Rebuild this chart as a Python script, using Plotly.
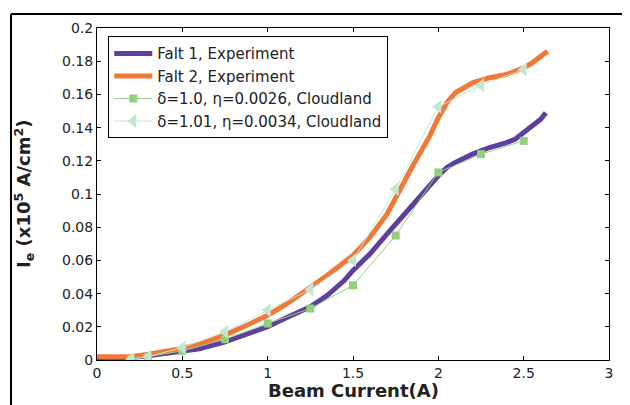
import plotly.graph_objects as go

PURPLE = "#5E3F9E"
ORANGE = "#F07838"
SQ_GREEN = "#93CF7E"
TRI_GREEN = "#C2E6D0"
FONT = "DejaVu Sans, Liberation Sans, sans-serif"

# Falt 1, Experiment
falt1_x = [0, 0.1, 0.2, 0.3, 0.4, 0.5, 0.6, 0.75, 0.9, 1.0, 1.1, 1.25, 1.35, 1.45, 1.5,
           1.6, 1.7, 1.75, 1.85, 1.95, 2.0, 2.05, 2.1, 2.2, 2.3, 2.4, 2.45, 2.5, 2.55, 2.6, 2.63]
falt1_y = [0.0015, 0.0015, 0.0015, 0.0025, 0.0037, 0.005, 0.0068, 0.011, 0.016, 0.020, 0.025,
           0.032, 0.039, 0.048, 0.054, 0.064, 0.076, 0.082, 0.094, 0.106, 0.111, 0.116, 0.119,
           0.124, 0.128, 0.131, 0.133, 0.137, 0.141, 0.145, 0.149]

# Falt 2, Experiment
falt2_x = [0, 0.1, 0.2, 0.3, 0.4, 0.5, 0.6, 0.75, 0.9, 1.0, 1.1, 1.25, 1.35, 1.5, 1.6, 1.7,
           1.75, 1.85, 1.95, 2.0, 2.05, 2.1, 2.2, 2.3, 2.4, 2.5, 2.55, 2.6, 2.64]
falt2_y = [0.002, 0.002, 0.002, 0.0035, 0.005, 0.007, 0.0095, 0.015, 0.022, 0.027, 0.033,
           0.044, 0.051, 0.063, 0.074, 0.088, 0.098, 0.117, 0.135, 0.146, 0.155, 0.161, 0.167,
           0.170, 0.172, 0.176, 0.179, 0.183, 0.186]

# Cloudland simulations
sim_x = [0.2, 0.3, 0.5, 0.75, 1.0, 1.25, 1.5, 1.75, 2.0, 2.25, 2.5]
sim1_y = [0.0005, 0.002, 0.0055, 0.0125, 0.022, 0.031, 0.045, 0.075, 0.113, 0.124, 0.132]
sim2_y = [0.0005, 0.002, 0.0075, 0.017, 0.030, 0.0425, 0.060, 0.103, 0.1525, 0.1655, 0.175]

fig = go.Figure()
fig.add_trace(go.Scatter(x=falt1_x, y=falt1_y, mode="lines", name="Falt 1, Experiment",
                         line=dict(color=PURPLE, width=5)))
fig.add_trace(go.Scatter(x=falt2_x, y=falt2_y, mode="lines", name="Falt 2, Experiment",
                         line=dict(color=ORANGE, width=5)))
fig.add_trace(go.Scatter(x=sim_x, y=sim1_y, mode="lines+markers",
                         name="δ=1.0, η=0.0026, Cloudland",
                         line=dict(color=SQ_GREEN, width=1),
                         marker=dict(symbol="square", size=8, color=SQ_GREEN)))
fig.add_trace(go.Scatter(x=sim_x, y=sim2_y, mode="lines+markers",
                         name="δ=1.01, η=0.0034, Cloudland",
                         line=dict(color=TRI_GREEN, width=1),
                         marker=dict(symbol="triangle-left", size=12, color=TRI_GREEN)))

axis_common = dict(showline=True, linecolor="black", linewidth=1, mirror="ticks",
                   ticks="inside", ticklen=4, tickcolor="black", showgrid=False,
                   zeroline=False, tickfont=dict(size=14, color="#222"))

fig.update_xaxes(range=[0, 3], dtick=0.5, **axis_common)
fig.update_yaxes(range=[0, 0.2], dtick=0.02, **axis_common)

fig.update_layout(
    width=630, height=405,
    margin=dict(l=89, r=29, t=16, b=53),
    paper_bgcolor="white", plot_bgcolor="white",
    font=dict(family=FONT, color="#222"),
    legend=dict(x=0.022, y=0.975, xanchor="left", yanchor="top",
                bgcolor="white", bordercolor="black", borderwidth=1,
                font=dict(size=15), itemwidth=38, tracegroupgap=0),
    annotations=[
        dict(text="<b>I<sub>e</sub> (x10<sup>5</sup> A/cm<sup>2</sup>)</b>",
             xref="paper", yref="paper", x=-0.172, y=0.5, textangle=-90,
             showarrow=False, font=dict(size=18, color="#222")),
        dict(text="<b>Beam Current(A)</b>", xref="paper", yref="paper",
             x=0.5, y=-0.092, yanchor="middle", showarrow=False,
             font=dict(size=18, color="#222")),
    ],
    shapes=[
        dict(type="line", xref="paper", yref="paper", x0=-0.168, x1=1.06, y0=1.042, y1=1.042,
             line=dict(color="black", width=2)),
        dict(type="line", xref="paper", yref="paper", x0=-0.168, x1=-0.168, y0=1.042, y1=-0.2,
             line=dict(color="black", width=2)),
    ],
)

fig.write_html("out.html")
